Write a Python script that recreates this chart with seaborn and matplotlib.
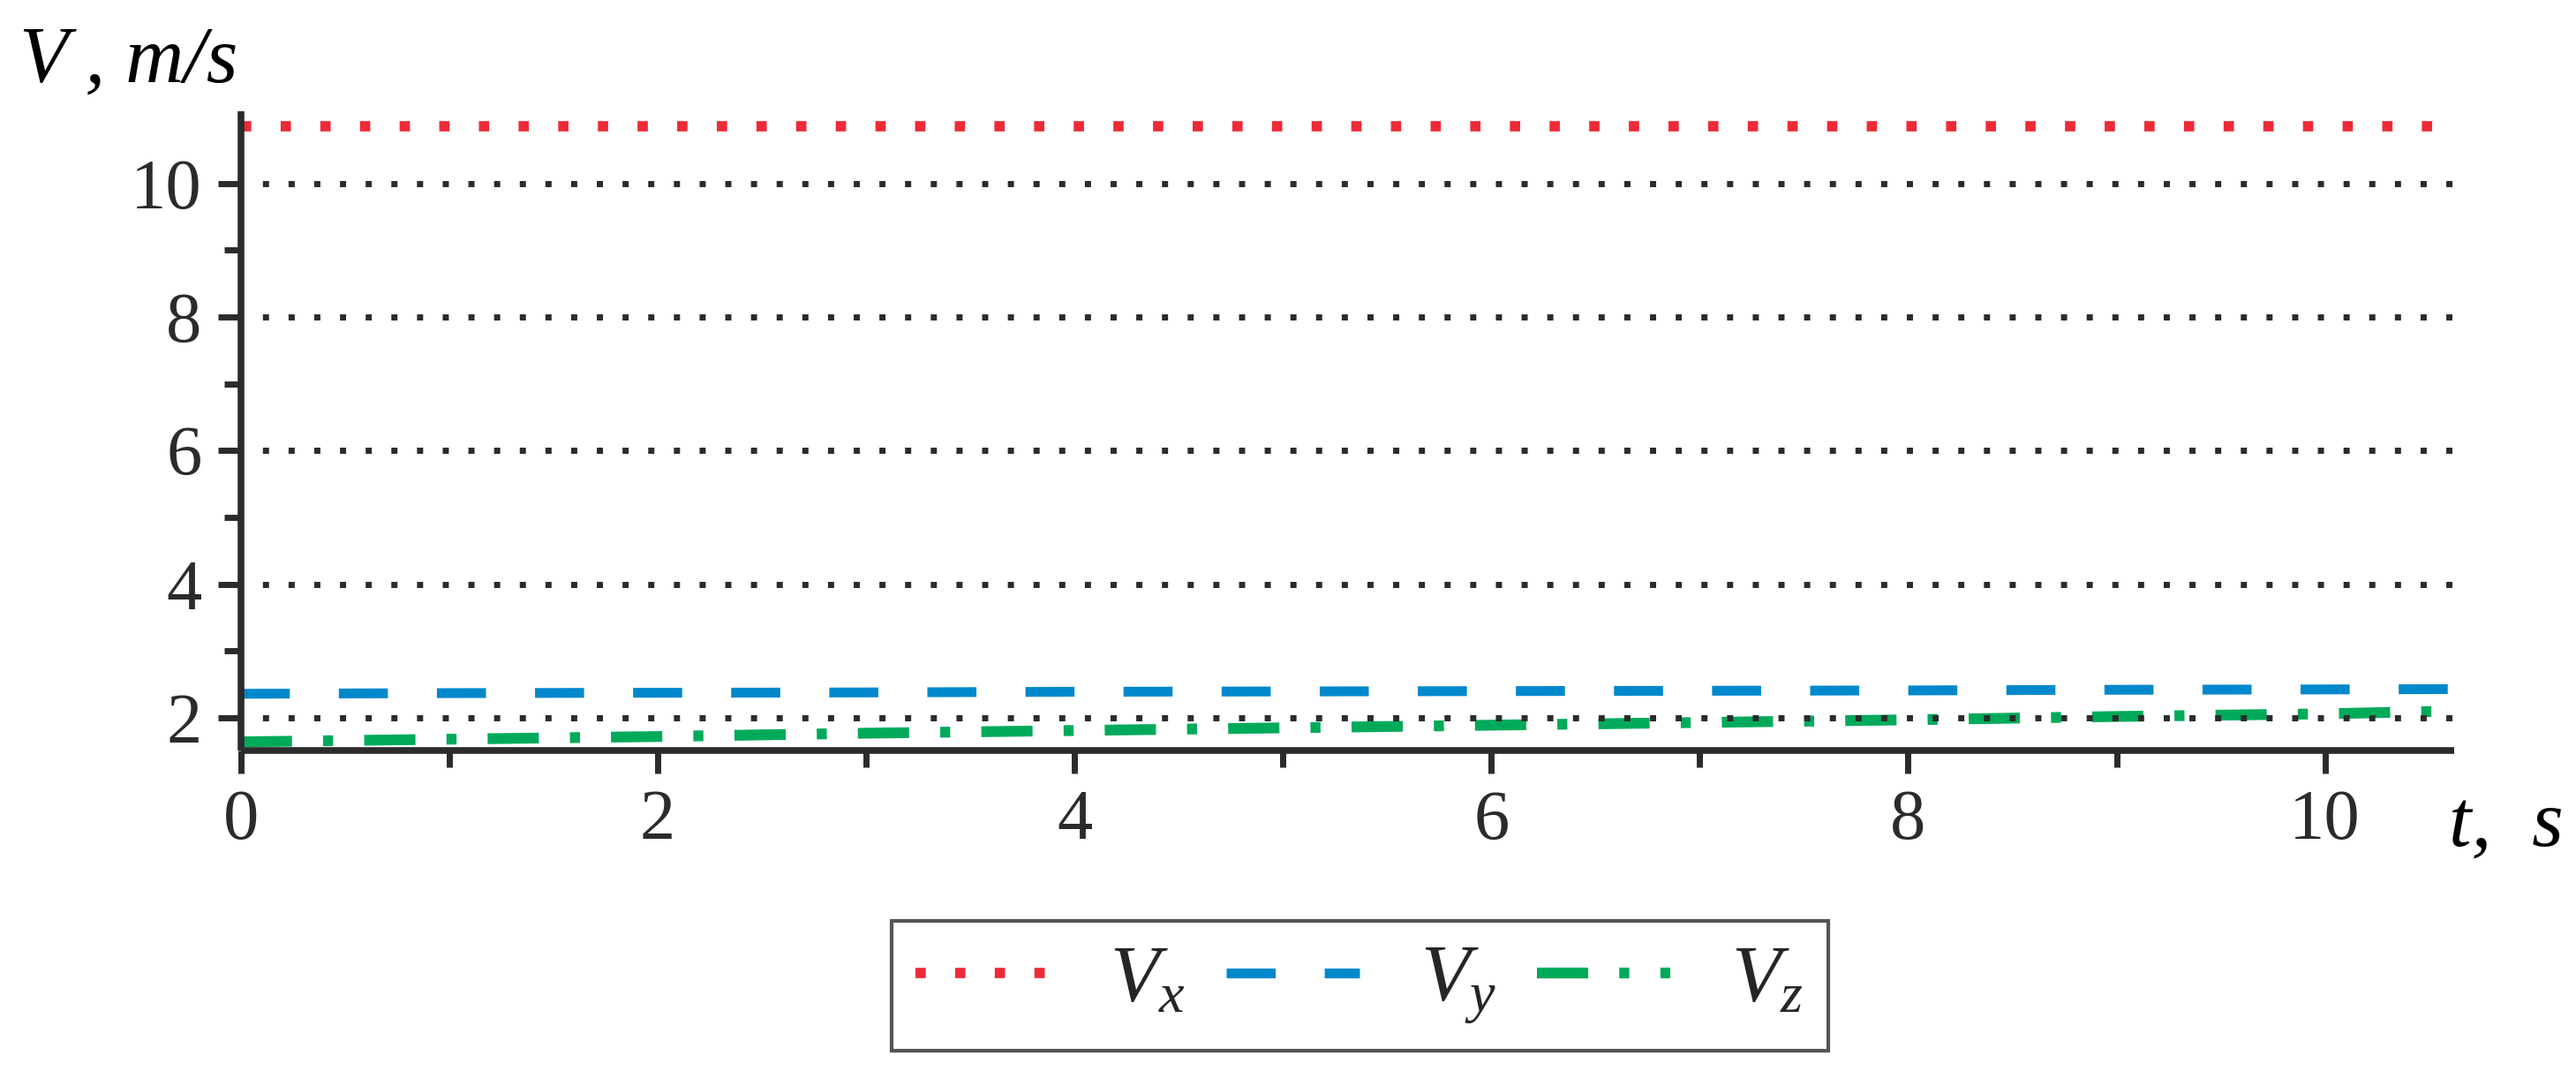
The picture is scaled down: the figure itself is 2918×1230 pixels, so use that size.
import numpy as np
import pandas as pd
import matplotlib
matplotlib.use("Agg")
import matplotlib.pyplot as plt
import seaborn as sns
from matplotlib.lines import Line2D

# ---- data ----
t = [0, 1, 2, 3, 4, 5, 6, 7, 8, 9, 10, 10.6]
vx = [10.85] * 12
vy = [2.36, 2.37, 2.375, 2.38, 2.39, 2.395, 2.40, 2.405, 2.41, 2.42, 2.425, 2.43]
vz = [1.64, 1.68, 1.72, 1.77, 1.81, 1.85, 1.89, 1.93, 1.97, 2.02, 2.06, 2.10]
names = ["Vx", "Vy", "Vz"]
labels = [r"$V_x$", r"$V_y$", r"$V_z$"]
x_major = [0, 2, 4, 6, 8, 10]
x_minor = [1, 3, 5, 7, 9]
y_major = [2, 4, 6, 8, 10]
y_minor = [3, 5, 7, 9]

df = pd.concat([
    pd.DataFrame({"t": t, "V": vx, "comp": "Vx"}),
    pd.DataFrame({"t": t, "V": vy, "comp": "Vy"}),
    pd.DataFrame({"t": t, "V": vz, "comp": "Vz"}),
])

sns.set_theme(style="white")
plt.rcParams["font.family"] = ["Liberation Serif", "DejaVu Serif"]
plt.rcParams["mathtext.fontset"] = "custom"
plt.rcParams["mathtext.it"] = "Liberation Serif:italic"
plt.rcParams["mathtext.rm"] = "Liberation Serif"

ink = "#2b2b2b"
palette = {"Vx": "#ee2a37", "Vy": "#0088cc", "Vz": "#00aa5a"}
dashes = {"Vx": (1, 2.85), "Vy": (5.0, 5.0), "Vz": (4.75, 2.88, 0.93, 2.88)}
lws = {"Vx": 8.4, "Vy": 8.0, "Vz": 8.8}

fig = plt.figure(figsize=(29.18, 12.30), dpi=100)
ax = fig.add_axes([0.09346, 0.30894, 0.9527 - 0.09346, 0.89756 - 0.30894])

sns.lineplot(data=df, x="t", y="V", hue="comp", style="comp",
             palette=palette, dashes=dashes, ax=ax, legend=False,
             estimator=None, sort=False)
for line, n in zip(ax.get_lines(), names):
    line.set_linewidth(lws[n])
    line.set_dash_capstyle("butt")

ax.set_xlim(0, 10.62)
ax.set_ylim(1.511, 11.08)
ax.set_xticks(x_major)
ax.set_xticks(x_minor, minor=True)
ax.set_yticks(y_major)
ax.set_yticks(y_minor, minor=True)
ax.set_xlabel("")
ax.set_ylabel("")

for s in ["top", "right"]:
    ax.spines[s].set_visible(False)
for s in ["left", "bottom"]:
    ax.spines[s].set_color(ink)
    ax.spines[s].set_linewidth(5.5)
    ax.spines[s].set_capstyle("butt")

ax.tick_params(axis="both", which="major", direction="out", length=19, width=5,
               color=ink, labelcolor=ink, labelsize=58)
ax.tick_params(axis="both", which="minor", direction="out", length=13.5, width=5,
               color=ink)
ax.tick_params(axis="y", which="major", pad=13, left=True)
ax.tick_params(axis="y", which="minor", left=True)
ax.tick_params(axis="x", which="major", pad=13, bottom=True)
ax.tick_params(axis="x", which="minor", bottom=True)

ax.yaxis.grid(True, which="major", color=ink, linewidth=5,
              linestyle=(0.69, (1, 3.19)))
ax.xaxis.grid(False)
ax.set_axisbelow(False)

fig.text(22 / 2918, 1 - 93 / 1230, "V\u2009, m/s", fontsize=66, fontstyle="italic",
         color="black", ha="left", va="baseline")
fig.text(2774 / 2918, 1 - 958 / 1230, "t,  s", fontsize=66, fontstyle="italic",
         color="black", ha="left", va="baseline")

handles = [Line2D([0], [0], color=palette[n], lw=lws[n], dashes=dashes[n],
                  dash_capstyle="butt") for n in names]
leg = fig.legend(handles, labels, loc="center", bbox_to_anchor=(0.5278, 0.0923),
                 ncol=3, fontsize=66, frameon=True, fancybox=False,
                 handlelength=1.65, handletextpad=0.75, columnspacing=0.5,
                 borderpad=0.3, borderaxespad=0)
leg.get_frame().set_edgecolor(ink)
leg.get_frame().set_linewidth(3)

fig.savefig("out.png", dpi=100, facecolor="white")
